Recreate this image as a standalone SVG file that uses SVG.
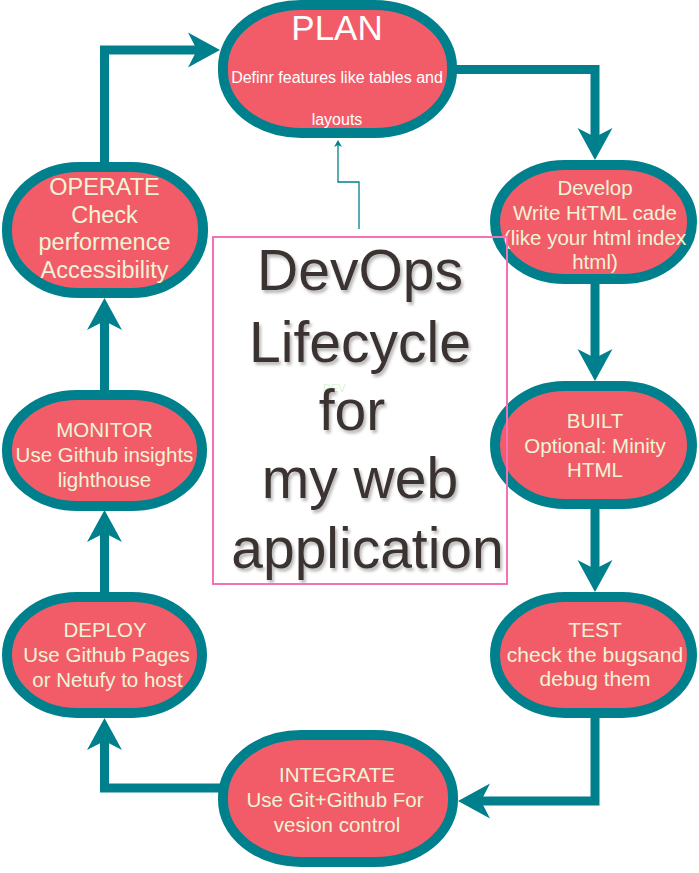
<svg xmlns="http://www.w3.org/2000/svg" width="699" height="873" viewBox="0 0 699 873">
<style>
.node{fill:#f25c69;stroke:#00808c;stroke-width:10}
.nt{font-family:"Liberation Sans",Arial,sans-serif;font-size:20.5px;fill:#eef5d6;text-anchor:middle}
.nt21{font-size:21px}
.nt24{font-size:23.5px}
.pt{font-family:"Liberation Sans",Arial,sans-serif;fill:#ffffff;text-anchor:middle}
.conn{fill:none;stroke:#00808c;stroke-width:9}
.big{font-family:"Liberation Sans",Arial,sans-serif;font-size:57px;fill:#3b3230;text-anchor:middle}
</style>
<defs>
<marker id="ah" markerUnits="userSpaceOnUse" viewBox="-33 -18 34 36" refX="-23" refY="0" markerWidth="34" markerHeight="36" orient="auto">
<path d="M0,0 L-32,-17.5 L-23,0 L-32,17.5 Z" fill="#00808c"/>
</marker>
<marker id="ahs" markerUnits="userSpaceOnUse" viewBox="-8 -5 9 10" refX="-5" refY="0" markerWidth="9" markerHeight="10" orient="auto">
<path d="M0,0 L-7,-4 L-5,0 L-7,4 Z" fill="#00808c"/>
</marker>
<filter id="sh" x="-10%" y="-10%" width="120%" height="130%">
<feDropShadow dx="2" dy="3" stdDeviation="1.5" flood-color="#000" flood-opacity="0.28"/>
</filter>
</defs>
<rect width="699" height="873" fill="#ffffff"/>
<g id="connectors">
<path class="conn" d="M452,69.5 H595 V137" marker-end="url(#ah)"/>
<path class="conn" d="M595,282 V358" marker-end="url(#ah)"/>
<path class="conn" d="M595,506 V569" marker-end="url(#ah)"/>
<path class="conn" d="M595,716 V801 H481" marker-end="url(#ah)"/>
<path class="conn" d="M222,788 H104.5 V741" marker-end="url(#ah)"/>
<path class="conn" d="M104.5,595 V533" marker-end="url(#ah)"/>
<path class="conn" d="M104.5,392 V321" marker-end="url(#ah)"/>
<path class="conn" d="M104.5,166 V50 H197" marker-end="url(#ah)"/>
<path d="M359,229 V182 H338 V145" fill="none" stroke="#00808c" stroke-width="1.3" marker-end="url(#ahs)"/>
</g>
<g id="plan">
<rect class="node" x="223" y="5" width="229" height="128" rx="78" ry="62"/>
<text class="pt" x="337" y="40" font-size="35">PLAN</text>
<text class="pt" x="337" y="83" font-size="16">Definr features like tables and</text>
<text class="pt" x="337" y="125" font-size="16">layouts</text>
</g>
<g id="develop">
<rect class="node" x="495" y="165" width="197" height="114" rx="70" ry="57"/>
<text class="nt" x="595" y="195">Develop</text>
<text class="nt" x="595" y="220">Write HtTML cade</text>
<text class="nt" x="595" y="245">(like your html index</text>
<text class="nt" x="595" y="269">html)</text>
</g>
<g id="built">
<rect class="node" x="495" y="386" width="197" height="118" rx="70" ry="59"/>
<text class="nt" x="595" y="428">BUILT</text>
<text class="nt" x="595" y="453">Optional: Minity</text>
<text class="nt" x="595" y="477">HTML</text>
</g>
<g id="test">
<rect class="node" x="495" y="597" width="197" height="116" rx="70" ry="58"/>
<text class="nt nt21" x="595" y="637">TEST</text>
<text class="nt nt21" x="595" y="662">check the bugsand</text>
<text class="nt nt21" x="595" y="686">debug them</text>
</g>
<g id="integrate">
<rect class="node" x="223" y="735" width="230" height="127" rx="78" ry="62"/>
<text class="nt" x="337" y="782">INTEGRATE</text>
<text class="nt" x="335" y="807">Use Git+Github For</text>
<text class="nt" x="337" y="832">vesion control</text>
</g>
<g id="deploy">
<rect class="node" x="7" y="597" width="195" height="116" rx="70" ry="58"/>
<text class="nt" x="105" y="637">DEPLOY</text>
<text class="nt" x="106.5" y="662">Use Github Pages</text>
<text class="nt" x="107.5" y="687">or Netufy to host</text>
</g>
<g id="monitor">
<rect class="node" x="7" y="395" width="195" height="111" rx="70" ry="55"/>
<text class="nt" x="104.5" y="437">MONITOR</text>
<text class="nt" x="104.5" y="462">Use Github insights</text>
<text class="nt" x="104.5" y="487">lighthouse</text>
</g>
<g id="operate">
<rect class="node" x="7" y="167" width="196" height="126" rx="72" ry="62"/>
<text class="nt nt24" x="104.5" y="195">OPERATE</text>
<text class="nt nt24" x="104.5" y="223">Check</text>
<text class="nt nt24" x="104.5" y="250">performence</text>
<text class="nt nt24" x="104.5" y="278">Accessibility</text>
</g>
<g id="title">
<text x="323" y="392" font-family="'Liberation Sans',Arial,sans-serif" font-size="11" fill="#d8f3d2">DEV</text>
<g filter="url(#sh)">
<text class="big" x="360" y="290">DevOps</text>
<text class="big" x="360" y="362">Lifecycle</text>
<text class="big" x="352" y="430">for</text>
<text class="big" x="360" y="498">my web</text>
<text class="big" x="367.5" y="568">application</text>
</g>
<rect x="213" y="237" width="294" height="347" fill="none" stroke="#f272b8" stroke-width="2"/>
</g>
</svg>
